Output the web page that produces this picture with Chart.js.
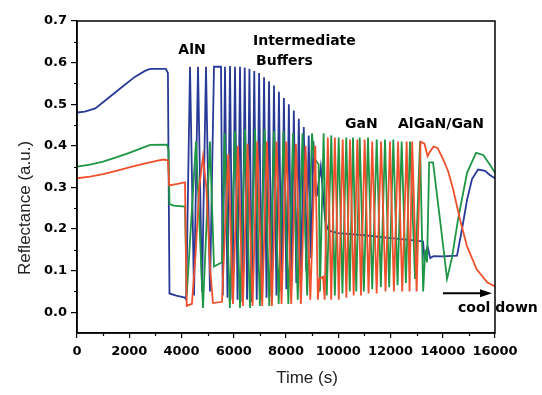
<!DOCTYPE html>
<html>
<head>
<meta charset="utf-8">
<script src="https://cdn.jsdelivr.net/npm/chart.js@4.4.1/dist/chart.umd.min.js"></script>
<style>
  html, body { margin: 0; background: #fff; }
  canvas { display: block; }
</style>
</head>
<body>
<canvas id="chart" width="542" height="395"></canvas>
<script>
// time (s) / reflectance pairs, one list per laser colour
const blueTrace = [
  [0,0.48],[300,0.482],[700,0.49],[1200,0.515],[1700,0.54],[2200,0.565],[2600,0.58],[2800,0.585],[3400,0.585],[3480,0.575],[3540,0.045],[3800,0.04],[4130,0.035],
  [4180,0.03],[4326,0.59],[4480,0.04],[4632,0.59],[4785,0.05],[4938,0.59],[5090,0.05],[5244,0.59],[5512,0.59],[5580,0.04],
  [5665,0.59],[5760,0.035],[5857,0.592],[5950,0.03],[6048,0.59],[6145,0.03],[6240,0.59],[6330,0.025],[6420,0.588],[6510,0.03],
  [6600,0.585],[6690,0.025],[6785,0.58],[6880,0.03],[6970,0.575],[7065,0.03],[7160,0.565],[7255,0.035],[7350,0.555],[7445,0.04],
  [7540,0.545],[7635,0.04],[7730,0.53],[7825,0.05],[7920,0.515],[8015,0.055],[8110,0.5],[8205,0.06],[8300,0.485],[8395,0.07],
  [8490,0.465],[8585,0.08],[8680,0.445],[8775,0.1],[8870,0.425],[8960,0.13],[9050,0.41],
  [9140,0.28],[9180,0.28],[9330,0.35],[9400,0.3],[9500,0.22],[9600,0.2],[9700,0.195],[10000,0.19],[11000,0.185],[12000,0.178],
  [13000,0.172],[13245,0.17],[13300,0.127],[13420,0.158],[13520,0.13],[13650,0.135],[14000,0.134],[14546,0.136],[14738,0.2],
  [14930,0.27],[15121,0.32],[15350,0.343],[15618,0.34],[15800,0.33],[16000,0.322]
];

const greenTrace = [
  [0,0.35],[500,0.355],[1000,0.362],[1500,0.372],[2000,0.383],[2500,0.395],[2800,0.402],[3450,0.403],[3500,0.39],[3540,0.26],[3700,0.256],[4134,0.254],
  [4200,0.04],[4555,0.41],[4823,0.01],[5090,0.41],[5244,0.11],[5550,0.12],
  [5650,0.43],[5850,0.01],[6048,0.435],[6240,0.01],[6431,0.44],[6620,0.01],[6814,0.44],[7000,0.015],[7178,0.44],[7360,0.015],
  [7541,0.435],[7720,0.02],[7905,0.435],[8090,0.02],[8269,0.43],[8450,0.03],[8632,0.43],[8810,0.04],[8996,0.43],
  [9080,0.37],[9250,0.355],[9300,0.05],[9440,0.43],[9560,0.04],[9733,0.425],[9870,0.04],[10017,0.42],[10160,0.045],[10308,0.42],
  [10440,0.05],[10565,0.42],[10690,0.05],[10821,0.42],[10980,0.05],[11139,0.42],[11300,0.055],[11472,0.415],[11630,0.06],
  [11790,0.415],[11950,0.06],[12108,0.415],[12270,0.065],[12428,0.41],[12590,0.07],[12747,0.41],[12940,0.08],[13130,0.41],
  [13250,0.05],[13330,0.15],[13400,0.12],[13480,0.36],[13628,0.36],[13900,0.22],[14164,0.08],[14350,0.13],[14585,0.223],
  [14930,0.335],[15274,0.383],[15550,0.378],[15800,0.355],[16000,0.335]
];

const redTrace = [
  [0,0.322],[500,0.326],[1000,0.332],[1500,0.34],[2000,0.348],[2500,0.356],[3000,0.363],[3300,0.367],[3480,0.365],[3530,0.305],[3800,0.308],[4134,0.312],
  [4200,0.015],[4400,0.02],[4550,0.15],[4680,0.3],[4823,0.374],[4950,0.3],[5100,0.1],[5206,0.022],[5550,0.025],
  [5790,0.38],[5970,0.02],[6160,0.4],[6350,0.015],[6530,0.405],[6720,0.015],[6900,0.41],[7090,0.015],[7270,0.41],[7460,0.015],
  [7640,0.41],[7830,0.02],[8010,0.41],[8200,0.02],[8380,0.405],[8570,0.02],[8750,0.4],[8930,0.03],[9120,0.4],
  [9220,0.03],[9280,0.08],[9420,0.085],[9480,0.03],[9600,0.42],[9730,0.03],[9870,0.42],[10020,0.03],[10170,0.415],[10310,0.035],
  [10450,0.415],[10590,0.04],[10730,0.415],[10870,0.04],[11010,0.415],[11160,0.045],[11300,0.41],[11470,0.045],[11640,0.41],
  [11810,0.05],[11980,0.41],[12130,0.05],[12290,0.41],[12450,0.05],[12620,0.41],[12730,0.05],[12830,0.41],[13000,0.05],[13150,0.41],
  [13300,0.405],[13420,0.375],[13500,0.385],[13650,0.398],[13800,0.395],[14000,0.37],[14200,0.34],[14400,0.295],[14660,0.223],
  [14930,0.158],[15300,0.103],[15700,0.072],[16000,0.062]
];

const xTicks = [0, 2000, 4000, 6000, 8000, 10000, 12000, 14000, 16000];
const xMinor = [1000, 3000, 5000, 7000, 9000, 11000, 13000, 15000];
const yTicks = [0, 0.1, 0.2, 0.3, 0.4, 0.5, 0.6, 0.7];
const yMinor = [0.05, 0.15, 0.25, 0.35, 0.45, 0.55, 0.65];

// stage labels: [text, time, reflectance, align]
const stageLabels = [
  ['AlN', 4402, 0.63, 'center'],
  ['Intermediate', 6737, 0.652, 'left'],
  ['Buffers', 6852, 0.604, 'left'],
  ['GaN', 10259, 0.451, 'left'],
  ['AlGaN/GaN', 12288, 0.451, 'left'],
  ['cool down', 14585, 0.0096, 'left']
];

const toPoints = tr => tr.map(p => ({ x: p[0], y: p[1] }));

const frame = {
  id: 'frame',
  afterDraw(chart) {
    const { ctx, chartArea: a, scales: { x, y } } = chart;
    ctx.save();
    ctx.strokeStyle = '#000';
    ctx.lineWidth = 1.5;
    ctx.strokeRect(a.left, a.top, a.right - a.left, a.bottom - a.top);

    // minor ticks
    ctx.lineWidth = 1.2;
    ctx.beginPath();
    xMinor.forEach(v => {
      const px = Math.round(x.getPixelForValue(v)) + 0.5;
      ctx.moveTo(px, a.bottom); ctx.lineTo(px, a.bottom + 3);
    });
    yMinor.forEach(v => {
      const py = Math.round(y.getPixelForValue(v)) + 0.5;
      ctx.moveTo(a.left - 3, py); ctx.lineTo(a.left, py);
    });
    ctx.stroke();

    // stage labels
    ctx.fillStyle = '#000';
    ctx.font = 'bold 14px "DejaVu Sans"';
    ctx.textBaseline = 'middle';
    stageLabels.forEach(([t, tx, ty, al]) => {
      ctx.textAlign = al;
      ctx.fillText(t, x.getPixelForValue(tx), y.getPixelForValue(ty));
    });

    // cool down arrow
    const ax0 = x.getPixelForValue(14010), ax1 = x.getPixelForValue(15886);
    const ay = y.getPixelForValue(0.0456);
    ctx.lineWidth = 2;
    ctx.beginPath();
    ctx.moveTo(ax0, ay); ctx.lineTo(ax1 - 10, ay);
    ctx.stroke();
    ctx.beginPath();
    ctx.moveTo(ax1, ay); ctx.lineTo(ax1 - 12, ay - 4); ctx.lineTo(ax1 - 12, ay + 4);
    ctx.closePath();
    ctx.fill();

    // axis titles
    ctx.font = '17px "Liberation Sans"';
    ctx.fillStyle = '#222';
    ctx.textAlign = 'center';
    ctx.fillText('Time (s)', 307, 378);
    ctx.translate(25, 208);
    ctx.rotate(-Math.PI / 2);
    ctx.fillText('Reflectance (a.u.)', 0, 0);
    ctx.restore();
  }
};

const lineStyle = { borderWidth: 1.8, pointRadius: 0, tension: 0, fill: false };

new Chart(document.getElementById('chart'), {
  type: 'line',
  data: {
    datasets: [
      { label: 'red', data: toPoints(redTrace), borderColor: '#f0502c', ...lineStyle },
      { label: 'green', data: toPoints(greenTrace), borderColor: '#1d9645', ...lineStyle },
      { label: 'blue', data: toPoints(blueTrace), borderColor: '#283a98', ...lineStyle }
    ]
  },
  options: {
    responsive: false,
    animation: false,
    layout: { padding: { top: 21, right: 47, left: 0, bottom: 0 } },
    plugins: { legend: { display: false }, tooltip: { enabled: false } },
    scales: {
      x: {
        type: 'linear', min: 0, max: 16000,
        afterBuildTicks: s => { s.ticks = xTicks.map(v => ({ value: v })); },
        afterFit: s => { s.height = 62; },
        grid: { drawOnChartArea: false, color: '#000', tickLength: 5, lineWidth: 1.2 },
        border: { color: '#000', width: 1.5 },
        ticks: { color: '#000', padding: 6, maxRotation: 0, font: { family: 'DejaVu Sans', weight: 'bold', size: 13 },
                 callback: v => String(v) }
      },
      y: {
        type: 'linear', min: -0.05, max: 0.7,
        afterBuildTicks: s => { s.ticks = yTicks.map(v => ({ value: v })); },
        afterFit: s => { s.width = 77; },
        grid: { drawOnChartArea: false, color: '#000', tickLength: 6, lineWidth: 1.2 },
        border: { color: '#000', width: 1.5 },
        ticks: { color: '#000', padding: 4, font: { family: 'DejaVu Sans', weight: 'bold', size: 13 },
                 callback: v => v.toFixed(1) }
      }
    }
  },
  plugins: [frame]
});
</script>
</body>
</html>
